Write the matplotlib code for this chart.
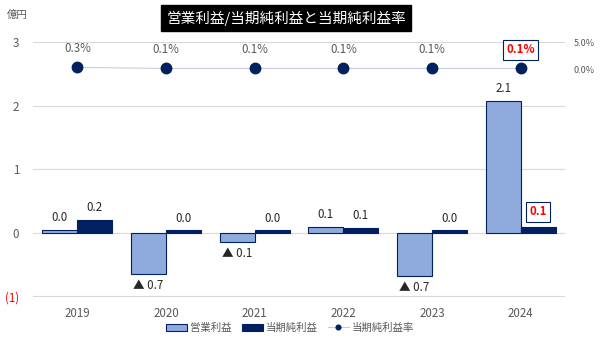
import matplotlib.pyplot as plt
import numpy as np

plt.rcParams['font.family'] = ['Noto Sans CJK JP', 'DejaVu Sans']

years = ['2019', '2020', '2021', '2022', '2023', '2024']
op_profit = [0.05, -0.65, -0.14, 0.10, -0.68, 2.08]
net_profit = [0.20, 0.04, 0.04, 0.08, 0.04, 0.09]
op_labels = ['0.0', '▲ 0.7', '▲ 0.1', '0.1', '▲ 0.7', '2.1']
net_labels = ['0.2', '0.0', '0.0', '0.1', '0.0', '0.1']
net_rate = [0.3, 0.1, 0.1, 0.1, 0.1, 0.1]
rate_labels = ['0.3%', '0.1%', '0.1%', '0.1%', '0.1%', '0.1%']

light = '#8FAADC'
navy = '#002060'
gray = '#595959'
fs = 8.3

fig = plt.figure(figsize=(6.01, 3.39), dpi=100)
ax = fig.add_axes([33 / 601, 42 / 339, 532 / 601, 255 / 339])

x = np.arange(len(years))
w = 0.395
b1 = ax.bar(x - w / 2, op_profit, w, color=light, edgecolor=navy, linewidth=0.8,
            label='営業利益', zorder=3)
b2 = ax.bar(x + w / 2, net_profit, w, color=navy, edgecolor=navy, linewidth=0.8,
            label='当期純利益', zorder=3)

ax.set_xlim(-0.5, len(years) - 0.5)
ax.set_ylim(-1.01, 3.006)
ax.set_yticks([-1, 0, 1, 2, 3])
ax.set_yticklabels(['(1)', '0', '1', '2', '3'])
ax.set_xticks(x)
ax.set_xticklabels(years)
ax.tick_params(length=0, labelsize=fs, labelcolor=gray, pad=7)
ax.tick_params(axis='y', pad=10)
ax.get_yticklabels()[0].set_color('red')
ax.grid(axis='y', color='#D9D9D9', linewidth=0.8, zorder=0)
for s in ax.spines.values():
    s.set_visible(False)

# Цифры на столбцах
for bar, v, t in zip(b1, op_profit, op_labels):
    cx = bar.get_x() + bar.get_width() / 2
    if v < 0:
        ax.text(cx, v - 0.08, t, ha='center', va='top', fontsize=fs, color='#262626')
    else:
        ax.text(cx, v + 0.09, t, ha='center', va='bottom', fontsize=fs, color='#262626')
for i, (bar, v, t) in enumerate(zip(b2, net_profit, net_labels)):
    cx = bar.get_x() + bar.get_width() / 2
    if i == len(years) - 1:
        ax.text(cx, v + 0.14, t, ha='center', va='bottom', fontsize=fs, color='red',
                fontweight='bold',
                bbox=dict(boxstyle='square,pad=0.3', fc='white', ec=navy, lw=0.8))
    else:
        ax.text(cx, v + 0.09, t, ha='center', va='bottom', fontsize=fs, color='#262626')

ax2 = ax.twinx()
ax2.set_ylim(-42.2, 5)
ax2.set_yticks([0, 5])
ax2.set_yticklabels(['0.0%', '5.0%'])
ax2.tick_params(length=0, labelsize=6.5, labelcolor=gray, pad=6)
for s in ax2.spines.values():
    s.set_visible(False)
ax2.plot(x, net_rate, color='#C5CCDA', linewidth=0.8, marker='o', markersize=7.5,
         markerfacecolor=navy, markeredgecolor=navy, label='当期純利益率', zorder=4)
for i, (xi, v, t) in enumerate(zip(x, net_rate, rate_labels)):
    if i == len(years) - 1:
        ax2.text(xi, v + 2.3, t, ha='center', va='bottom', fontsize=fs, color='red',
                 fontweight='bold',
                 bbox=dict(boxstyle='square,pad=0.3', fc='white', ec=navy, lw=0.8))
    else:
        ax2.text(xi, v + 2.3, t, ha='center', va='bottom', fontsize=fs, color=gray)

fig.text(7 / 601, 1 - 15 / 339, '億円', fontsize=7.5, color=gray, ha='left', va='center')
fig.text(286 / 601, 1 - 18 / 339, '営業利益/当期純利益と当期純利益率', fontsize=10.5,
         color='white', ha='center', va='center',
         bbox=dict(boxstyle='square,pad=0.35', fc='black', ec='black'))

h1, l1 = ax.get_legend_handles_labels()
h2, l2 = ax2.get_legend_handles_labels()
fig.legend(h1 + h2, l1 + l2, loc='center', bbox_to_anchor=(290 / 601, 1 - 328 / 339),
           ncol=3, frameon=False, fontsize=7.5, labelcolor=gray, handlelength=2.0,
           handleheight=0.7, columnspacing=1.0, handletextpad=0.3, markerscale=0.45)

plt.savefig('out.png', dpi=100)
plt.close()
